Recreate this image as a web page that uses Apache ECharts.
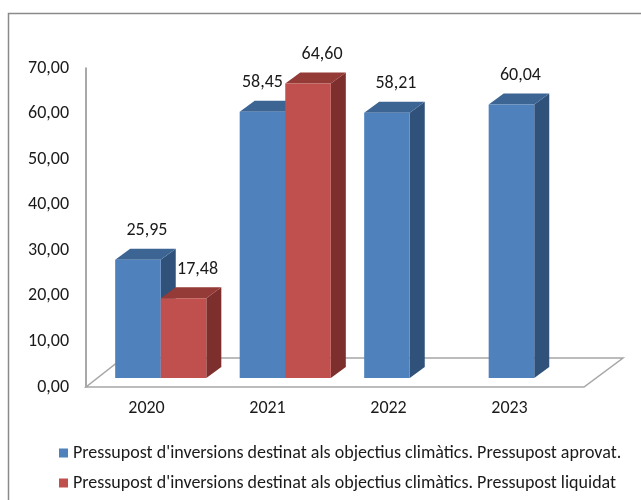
<!DOCTYPE html>
<html>
<head>
<meta charset="utf-8">
<script src="https://cdn.jsdelivr.net/npm/echarts@6/dist/echarts.min.js"></script>
<style>html,body{margin:0;padding:0;background:#fff}#c{width:641px;height:500px}</style>
</head>
<body>
<div id="c"></div>
<script>
const categories = ['2020', '2021', '2022', '2023'];
const aprovat = [25.95, 58.45, 58.21, 60.04];
const liquidat = [17.48, 64.60, null, null];
const seriesNames = [
  "Pressupost d'inversions destinat als objectius climàtics. Pressupost aprovat.",
  "Pressupost d'inversions destinat als objectius climàtics. Pressupost liquidat"
];
const yMin = 0, yMax = 70, yStep = 10;

const FONT = "Carlito, 'Liberation Sans', Arial, sans-serif";
const FS = 18;
const palettes = [
  { front: '#4f81bd', top: '#3d6594', side: '#30527a' },
  { front: '#c0504d', top: '#943a37', side: '#7c2f2d' }
];
const fmt = v => v.toFixed(2).replace('.', ',');

function barRenderer(sIdx) {
  return function (params, api) {
    const idx = api.value(0), val = api.value(1);
    const base = api.coord([idx, 0]);
    const top = api.coord([idx, val]);
    const band = api.size([1, 0])[0];
    const bw = band * 0.366;
    const x0 = sIdx === 0 ? base[0] - bw : base[0];
    const dx = 15, dy = 11;
    const p = palettes[sIdx];
    // label shift: right of centre, unless the neighbouring bar is taller (avoid overlap)
    let lx = sIdx === 1 ? 14 : 9;
    if (sIdx === 0 && liquidat[idx] != null && liquidat[idx] > val) lx = 0;
    return {
      type: 'group',
      children: [
        { type: 'polygon', shape: { points: [[x0 + bw, top[1]], [x0 + bw + dx, top[1] - dy], [x0 + bw + dx, base[1] - dy], [x0 + bw, base[1]]] }, style: { fill: p.side } },
        { type: 'polygon', shape: { points: [[x0, top[1]], [x0 + dx, top[1] - dy], [x0 + bw + dx, top[1] - dy], [x0 + bw, top[1]]] }, style: { fill: p.top } },
        { type: 'rect', shape: { x: x0, y: top[1], width: bw, height: base[1] - top[1] }, style: { fill: p.front } },
        { type: 'text', x: x0 + bw / 2 + lx, y: top[1] - 29, style: { text: fmt(val), fill: '#1a1a1a', font: FS + 'px ' + FONT, align: 'center', verticalAlign: 'middle' } }
      ]
    };
  };
}

function toData(arr) {
  const out = [];
  arr.forEach((v, i) => { if (v != null) out.push([i, v]); });
  return out;
}

const chart = echarts.init(document.getElementById('c'), null, { renderer: 'canvas' });
chart.setOption({
  animation: false,
  backgroundColor: '#fff',
  graphic: [{
    type: 'rect', shape: { x: 8.5, y: 13.5, width: 700, height: 600 },
    style: { fill: 'none', stroke: '#8a8a8a', lineWidth: 1.5 }, z: 0
  }],
  legend: {
    orient: 'vertical', left: 54, top: 439, itemWidth: 9, itemHeight: 9, itemGap: 12,
    icon: 'rect',
    textStyle: { fontSize: FS, color: '#1a1a1a', fontFamily: FONT },
    data: seriesNames
  },
  grid: [
    { left: 86, top: 68, width: 498, height: 319 },
    { left: 98.5, top: 59, width: 498, height: 319 },
    { left: 86, top: 68, width: 484, height: 319 }
  ],
  xAxis: [
    { gridIndex: 0, type: 'category', data: categories, show: false },
    { gridIndex: 1, type: 'category', data: categories, show: false },
    { gridIndex: 2, type: 'category', data: categories, axisLine: { show: false }, axisTick: { show: false },
      axisLabel: { fontSize: FS, color: '#1a1a1a', fontFamily: FONT, margin: 12 } }
  ],
  yAxis: [
    { gridIndex: 0, type: 'value', min: yMin, max: yMax, interval: yStep,
      axisLine: { show: true, lineStyle: { color: '#8c8c8c', width: 1.5 } },
      axisTick: { show: false }, splitLine: { show: false },
      axisLabel: { formatter: fmt, fontSize: FS, color: '#1a1a1a', fontFamily: FONT, margin: 17 } },
    { gridIndex: 1, type: 'value', min: yMin, max: yMax, interval: yStep, show: false, splitLine: { show: false } },
    { gridIndex: 2, type: 'value', min: yMin, max: yMax, interval: yStep, show: false, splitLine: { show: false } }
  ],
  series: [
    {
      type: 'custom', xAxisIndex: 0, yAxisIndex: 0, data: [[0, 0]], silent: true, z: 1,
      renderItem: function (params, api) {
        const cs = params.coordSys;
        const fy = cs.y + cs.height;
        return {
          type: 'polygon',
          shape: { points: [[cs.x, fy], [cs.x + cs.width, fy], [cs.x + cs.width + 39, fy - 29], [cs.x + 37, fy - 29]] },
          style: { fill: '#fff', stroke: '#a6a6a6', lineWidth: 1.5 }
        };
      }
    },
    {
      name: seriesNames[0], type: 'custom', xAxisIndex: 1, yAxisIndex: 1, z: 2,
      itemStyle: { color: palettes[0].front },
      data: toData(aprovat), renderItem: barRenderer(0), clip: false
    },
    {
      name: seriesNames[1], type: 'custom', xAxisIndex: 1, yAxisIndex: 1, z: 3,
      itemStyle: { color: palettes[1].front },
      data: toData(liquidat), renderItem: barRenderer(1), clip: false
    }
  ]
});
</script>
</body>
</html>
